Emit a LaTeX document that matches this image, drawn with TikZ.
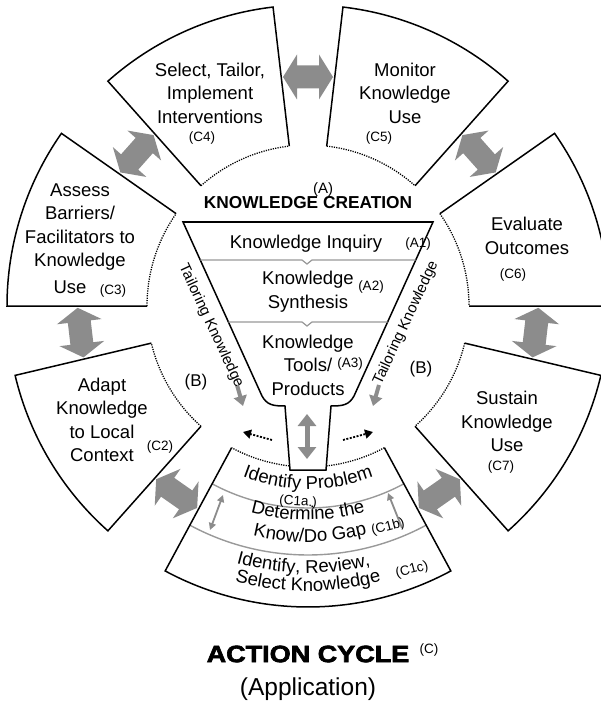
\documentclass[tikz,border=0pt]{standalone}
\usepackage{fontspec}
\usepackage{graphicx}
\setmainfont{Liberation Sans}
\newfontfamily\heavyfont[FakeBold=2.5]{Liberation Sans Bold}
\usetikzlibrary{decorations.text, arrows.meta, calc}
\newcommand\cfont{\fontsize{18.5}{22}\selectfont}
\tikzset{
  edge/.style={line width=1.5pt, line join=miter},
  innerdot/.style={line width=1.3pt, dash pattern=on 1.2pt off 1.2pt},
  band/.style={line width=1.4pt, draw=black!40},
  sepline/.style={line width=1.2pt, draw=black!40},
  stext/.style={font=\fontsize{18.5}{23.5}\selectfont, align=center, inner sep=0pt},
  lab/.style={font=\fontsize{13.5}{15}\selectfont, inner sep=0pt},
  fatgray/.style={fill=black!45},
  thinarrow/.style={draw=black!45, line width=1.8pt},
}
\newcommand\sectorshape[2]{%
  \draw[edge] ($(O)+(#1:161pt)$) -- ($(O)+(#1:301pt)$) arc[start angle=#1, end angle=#2, radius=301pt] -- ($(O)+(#2:161pt)$);
  \draw[innerdot] ($(O)+(#2:161pt)$) arc[start angle=#2, end angle=#1, radius=161pt];
}
\newcommand\fatarrow[1]{%
  \begin{scope}[shift={(O)}, rotate=#1]
    \fill[fatgray] (229,-25) -- (251.5,-11) -- (240.5,-11) -- (240.5,11) -- (251.5,11) -- (229,25)
      -- (206.5,11) -- (217.5,11) -- (217.5,-11) -- (206.5,-11) -- cycle;
  \end{scope}
}
\begin{document}
\begin{tikzpicture}[x=1pt,y=1pt]
\useasboundingbox (0,0) rectangle (601,-703);
\coordinate (O) at (308,-306);

% C1 bands
\draw[band] ($(O)+(241.67:202pt)$) arc[start angle=241.67, end angle=298.33, radius=202pt];
\draw[band] ($(O)+(241.67:249pt)$) arc[start angle=241.67, end angle=298.33, radius=249pt];

% sectors
\sectorshape{96.67}{131.67}
\sectorshape{48.33}{83.33}
\sectorshape{0}{35}
\sectorshape{-48.33}{-13.33}
\sectorshape{241.67}{298.33}
\sectorshape{193.33}{228.33}
\sectorshape{145}{180}

% fat double arrows
\fatarrow{90}
\fatarrow{41.67}
\fatarrow{-6.67}
\fatarrow{-55}
\fatarrow{235}
\fatarrow{186.67}
\fatarrow{138.33}

% funnel
\draw[edge, fill=white] (183,-222) -- (262,-396) .. controls (267,-405) and (273,-406) .. (285,-406)
  -- (290,-470) -- (326,-470) -- (331,-406) .. controls (343,-406) and (349,-405) .. (354,-396)
  -- (433,-222) -- cycle;
\draw[sepline] (200.3,-260) -- (302,-260) -- (307,-264) -- (312,-260) -- (415.7,-260);
\draw[sepline] (228.4,-322) -- (302,-322) -- (307,-326) -- (312,-322) -- (387.6,-322);

% arrows around funnel
\coordinate (st1) at (307,-414);
\coordinate (st2) at (307,-459);
\draw[draw=black!45, line width=5pt, {Triangle[width=18pt,length=12pt]}-{Triangle[width=18pt,length=12pt]}] (st1) -- (st2);
\coordinate (tl1) at (237,-385);
\coordinate (tl2) at (243,-406);
\draw[draw=black!45, line width=4pt, -{Triangle[width=13pt,length=10pt]}] (tl1) -- (tl2);
\coordinate (tr1) at (379,-385);
\coordinate (tr2) at (373,-406);
\draw[draw=black!45, line width=4pt, -{Triangle[width=13pt,length=10pt]}] (tr1) -- (tr2);
\coordinate (dl1) at (272,-440);
\coordinate (dl2) at (243,-432);
\draw[line width=1.8pt, dash pattern=on 2pt off 1.5pt, -{Triangle[width=9pt,length=8pt]}] (dl1) -- (dl2);
\coordinate (dr1) at (343,-440);
\coordinate (dr2) at (373,-432);
\draw[line width=1.8pt, dash pattern=on 2pt off 1.5pt, -{Triangle[width=9pt,length=8pt]}] (dr1) -- (dr2);

% arrows within C1
\coordinate (ca1) at (223,-495);
\coordinate (ca2) at (210,-530);
\draw[thinarrow, {Triangle[width=7pt,length=7pt]}-{Triangle[width=7pt,length=7pt]}] (ca1) -- (ca2);
\coordinate (cb1) at (402,-528);
\coordinate (cb2) at (388,-493);
\draw[thinarrow, -{Triangle[width=7pt,length=7pt]}] (cb1) -- (cb2);

% sector texts
\node[stext] (c4) at (210,-93) {Select, Tailor,\\Implement\\Interventions};
\node[lab] (c4l) at (202,-138) {(C4)};
\node[stext] (c5) at (405,-93) {Monitor\\Knowledge\\Use};
\node[lab] (c5l) at (379,-138) {(C5)};
\node[stext] (c3) at (80,-227) {Assess\\Barriers/\\Facilitators to\\Knowledge};
\node[stext] (c3u) at (70,-287) {Use};
\node[lab] (c3l) at (113,-291) {(C3)};
\node[stext] (c6) at (527,-236) {Evaluate\\Outcomes};
\node[lab] (c6l) at (513,-275) {(C6)};
\node[stext] (c2) at (102,-420) {Adapt\\Knowledge\\to Local\\Context};
\node[lab] (c2l) at (160,-447) {(C2)};
\node[stext] (c7) at (507,-421.5) {Sustain\\Knowledge\\Use};
\node[lab] (c7l) at (501,-467) {(C7)};

% funnel texts
\node[font=\bfseries\fontsize{17.3}{20}\selectfont, inner sep=0pt] (kc) at (308,-202.5) {KNOWLEDGE CREATION};
\node[font=\fontsize{15}{17}\selectfont, inner sep=0pt] (a) at (323,-190) {(A)};
\node[stext] (a1t) at (306,-243.5) {Knowledge Inquiry};
\node[lab] (a1) at (418,-244) {(A1)};
\node[stext] (a2t) at (308,-291.5) {Knowledge\\Synthesis};
\node[lab] (a2) at (371,-287) {(A2)};
\node[stext] (a3t) at (308,-365) {Knowledge\\Tools/\\Products};
\node[lab] (a3) at (350,-364) {(A3)};

\node[font=\fontsize{15}{17}\selectfont, inner sep=0pt, rotate=-65] (tk1) at (211,-326) {Tailoring Knowledge};
\node[font=\fontsize{15}{17}\selectfont, inner sep=0pt, rotate=65] (tk2) at (406,-323) {Tailoring Knowledge};
\node[font=\fontsize{17}{19}\selectfont, inner sep=0pt] (b1) at (196,-382) {(B)};
\node[font=\fontsize{17}{19}\selectfont, inner sep=0pt] (b2) at (421,-369) {(B)};

% C1 curved texts
\path[decorate, decoration={text along path, text={|\cfont|Identify Problem}, text align=center}]
  ($(O)+(240:183pt)$) arc[start angle=240, end angle=300, radius=183pt];
\path[decorate, decoration={text along path, text={|\cfont|Determine the}, text align=center}]
  ($(O)+(240:214pt)$) arc[start angle=240, end angle=300, radius=214pt];
\path[decorate, decoration={text along path, text={|\cfont|Know/Do Gap}, text align=center}]
  ($(O)+(240.5:236pt)$) arc[start angle=240.5, end angle=300.5, radius=236pt];
\path[decorate, decoration={text along path, text={|\cfont|Identify, Review,}, text align=center}]
  ($(O)+(239:267pt)$) arc[start angle=239, end angle=299, radius=267pt];
\path[decorate, decoration={text along path, text={|\cfont|Select Knowledge}, text align=center}]
  ($(O)+(240:285pt)$) arc[start angle=240, end angle=300, radius=285pt];
\node[lab, rotate=-3] (c1a) at (298,-502) {(C1a.)};
\node[lab, rotate=15] (c1b) at (388,-527) {(C1b)};
\node[lab, rotate=15] (c1c) at (412,-570) {(C1c)};

% titles
\node[inner sep=0pt] (ac) at (308,-654) {\scalebox{1.14}[1]{\heavyfont\fontsize{23.7}{26}\selectfont ACTION CYCLE}};
\node[lab] (acl) at (429,-650) {(C)};
\node[font=\fontsize{24.5}{28}\selectfont, inner sep=0pt] (app) at (308,-689) {(Application)};
\end{tikzpicture}
\end{document}
